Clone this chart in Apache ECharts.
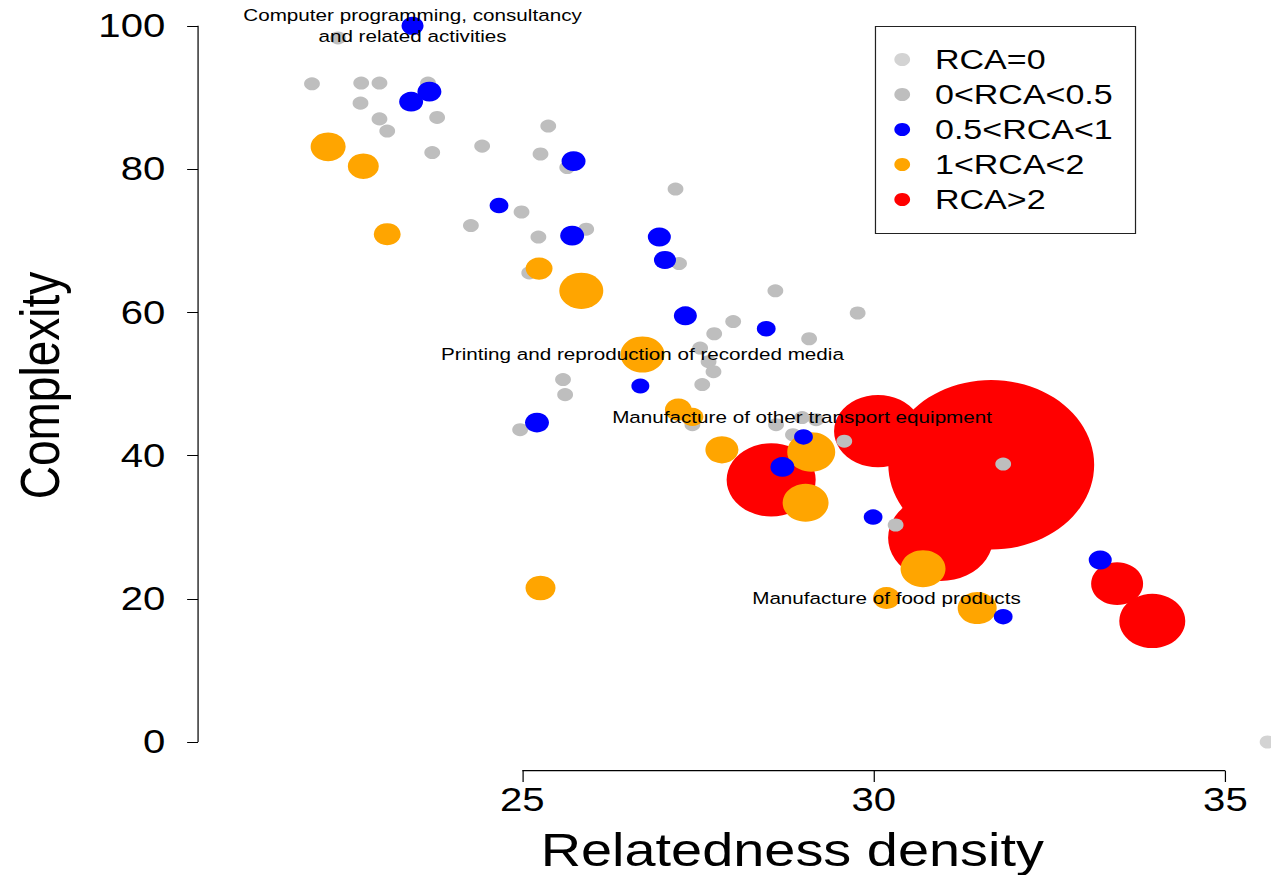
<!DOCTYPE html>
<html>
<head>
<meta charset="utf-8">
<script src="https://cdn.jsdelivr.net/npm/echarts@6.0.0/dist/echarts.min.js"></script>
<style>
  html, body { margin: 0; padding: 0; background: #fff; overflow: hidden; }
  #wrap { width: 1271px; height: 875px; overflow: hidden; }
  /* the figure is drawn at a narrower width and widened horizontally */
  #chart { width: 1046px; height: 875px; transform: scaleX(1.2151); transform-origin: 0 0; }
</style>
</head>
<body>
<div id="wrap"><div id="chart"></div></div>
<script>
// Each industry: [relatedness density, complexity, bubble weight]
const rcaZero = [
  [35.60, 0.0, 1.7]
];
const rcaLow = [ // 0 < RCA < 0.5
  [22.38, 98.3, 1.7], [22.01, 91.9, 1.7], [22.71, 92.0, 1.7], [22.97, 92.0, 1.7],
  [23.66, 92.0, 1.7], [22.70, 89.2, 1.7], [22.97, 87.0, 1.7], [23.08, 85.3, 1.7],
  [23.79, 87.2, 1.7], [23.72, 82.3, 1.7], [24.43, 83.2, 1.7], [25.37, 86.0, 1.7],
  [25.26, 82.1, 1.7], [25.64, 80.2, 1.7], [24.99, 74.0, 1.7], [24.27, 72.1, 1.7],
  [25.23, 70.5, 1.7], [25.91, 71.6, 1.7], [27.18, 77.2, 1.7], [25.10, 65.5, 1.7],
  [27.23, 66.8, 1.7], [28.00, 58.7, 1.7], [27.73, 57.0, 1.7], [29.77, 59.9, 1.7],
  [28.60, 63.0, 1.7], [29.08, 56.3, 1.7], [27.53, 55.0, 1.7], [27.65, 53.1, 1.7],
  [27.72, 51.7, 1.7], [27.56, 49.9, 1.7], [25.58, 50.6, 1.7], [25.61, 48.5, 1.7],
  [24.97, 43.6, 1.7], [27.42, 44.3, 1.7], [28.61, 44.3, 1.7], [28.98, 45.3, 1.7],
  [29.18, 45.0, 1.7], [28.85, 42.9, 1.7], [29.58, 42.0, 1.7], [30.31, 30.3, 1.7],
  [31.84, 38.8, 1.7]
];
const rcaMid = [ // 0.5 < RCA < 1
  [23.44, 100.0, 3.3], [23.42, 89.4, 3.9], [23.68, 90.8, 3.9], [25.73, 81.1, 3.9],
  [24.67, 74.9, 2.4], [25.71, 70.7, 3.9], [26.95, 70.5, 3.6], [27.03, 67.3, 3.3],
  [27.32, 59.5, 3.6], [28.47, 57.7, 2.4], [26.68, 49.7, 2.2], [25.21, 44.6, 3.9],
  [29.00, 42.6, 2.4], [28.70, 38.4, 3.9], [29.99, 31.4, 2.4], [31.84, 17.5, 2.4],
  [33.22, 25.4, 3.6]
];
const rcaHigh = [ // 1 < RCA < 2
  [22.24, 83.1, 8.3], [22.74, 80.4, 6.5], [23.08, 70.9, 4.9], [25.24, 66.1, 4.9],
  [25.84, 63.0, 13.1], [26.71, 54.1, 13.1], [27.22, 46.4, 4.9], [27.42, 45.4, 3.3],
  [27.84, 40.8, 7.4], [29.11, 40.5, 15.6], [29.03, 33.4, 14.3], [30.70, 24.2, 13.7],
  [30.18, 20.1, 4.9], [31.47, 18.7, 10.3], [25.26, 21.5, 6.1]
];
const rcaTop = [ // RCA > 2
  [31.67, 38.7, 287], [28.54, 36.6, 53.7], [30.06, 43.4, 52.4], [30.95, 28.5, 74.7],
  [33.46, 22.1, 18.3], [33.96, 16.9, 29.5]
];

const legendNames = ['RCA=0', '0<RCA<0.5', '0.5<RCA<1', '1<RCA<2', 'RCA>2'];
const xTicks = [25, 30, 35];
const yTicks = [0, 20, 40, 60, 80, 100];

// Named industries, pointing at their bubble
const namedIndustries = [
  { text: 'Computer programming, consultancy\nand related activities', group: rcaMid, index: 0 },
  { text: 'Printing and reproduction of recorded media', group: rcaHigh, index: 5 },
  { text: 'Manufacture of other transport equipment', group: rcaLow, index: 35 },
  { text: 'Manufacture of food products', group: rcaHigh, index: 12 }
];

const FONT = 'Liberation Sans, Arial, Helvetica, sans-serif';
const X_MIN = 20.39, X_MAX = 37.29;
const Y_MIN = -4.05, Y_MAX = 103.6;

const bubbleSize = v => 10 * Math.sqrt(v[2]);

function bubbles(name, data, color) {
  return {
    name: name,
    type: 'scatter',
    data: data,
    symbol: 'circle',
    symbolSize: bubbleSize,
    itemStyle: { color: color, opacity: 1 },
    emphasis: { disabled: true },
    silent: true,
    clip: false
  };
}

const chart = echarts.init(document.getElementById('chart'), null, { renderer: 'svg' });

const option = {
  animation: false,
  backgroundColor: '#fff',
  textStyle: { fontFamily: FONT },
  grid: { left: 163, width: 978, top: 0, height: 771, containLabel: false, outerBoundsMode: 'none' },
  xAxis: {
    type: 'value',
    min: X_MIN, max: X_MAX,
    axisLine: { show: false, onZero: false },
    splitLine: { show: false },
    axisTick: { show: true, customValues: xTicks, length: 11, lineStyle: { color: '#000', width: 1 } },
    axisLabel: { customValues: xTicks, fontSize: 33, color: '#000', margin: 12, fontFamily: FONT },
    name: 'Relatedness density',
    nameLocation: 'middle',
    nameGap: 56,
    nameTextStyle: { fontSize: 46, color: '#000', fontFamily: FONT }
  },
  yAxis: {
    type: 'value',
    min: Y_MIN, max: Y_MAX,
    axisLine: { show: false, onZero: false },
    splitLine: { show: false },
    axisTick: { show: true, customValues: yTicks, length: 9, lineStyle: { color: '#000', width: 1 } },
    axisLabel: { customValues: yTicks, fontSize: 33, color: '#000', margin: 27, fontFamily: FONT },
    name: 'Complexity',
    nameLocation: 'middle',
    nameGap: 107,
    nameTextStyle: { fontSize: 46, color: '#000', fontFamily: FONT }
  },
  legend: {
    orient: 'vertical',
    left: 731,
    top: 37,
    itemWidth: 28,
    itemHeight: 13,
    itemGap: 0,
    icon: 'circle',
    selectedMode: false,
    data: legendNames,
    textStyle: { fontSize: 28, color: '#000', lineHeight: 35, padding: [0, 0, 0, 8], fontFamily: FONT }
  },
  series: [
    bubbles('RCA>2', rcaTop, '#ff0000'),
    bubbles('RCA=0', rcaZero, '#d3d3d3'),
    bubbles('0<RCA<0.5', rcaLow, '#bebebe'),
    bubbles('1<RCA<2', rcaHigh, '#ffa500'),
    bubbles('0.5<RCA<1', rcaMid, '#0000ff'),
    {
      name: 'names',
      type: 'scatter',
      z: 10,
      silent: true,
      clip: false,
      symbolSize: 1,
      itemStyle: { color: 'rgba(0,0,0,0)' },
      data: namedIndustries.map(d => ({
        name: d.text,
        value: [d.group[d.index][0], d.group[d.index][1]]
      })),
      label: {
        show: true,
        opacity: 1,
        position: 'inside',
        formatter: '{b}',
        fontSize: 17,
        lineHeight: 21,
        align: 'center',
        verticalAlign: 'middle',
        color: '#000',
        fontFamily: FONT
      },
      labelLayout: { hideOverlap: false }
    }
  ]
};

chart.setOption(option);

// Axis lines that span only the labelled range (base-graphics style),
// placed through the chart's own scales; plus the legend frame.
const toPx = v => chart.convertToPixel({ gridIndex: 0 }, v);
const xa = toPx([xTicks[0], Y_MIN]);
const xb = toPx([xTicks[xTicks.length - 1], Y_MIN]);
const ya = toPx([X_MIN, yTicks[0]]);
const yb = toPx([X_MIN, yTicks[yTicks.length - 1]]);
const baseY = Math.round(xa[1]) - 1;

chart.setOption({
  graphic: [
    {
      type: 'rect', silent: true, z: 100,
      shape: { x: xa[0], y: baseY, width: xb[0] - xa[0], height: 1.2 },
      style: { fill: '#000', stroke: null }
    },
    {
      type: 'polyline', silent: true, z: 100,
      shape: { points: [[ya[0], ya[1]], [yb[0], yb[1]]] },
      style: { stroke: '#000', lineWidth: 1, fill: null }
    },
    {
      type: 'rect', silent: true,
      shape: { x: 720.5, y: 26.5, width: 214, height: 207 },
      style: { fill: 'none', stroke: '#222', lineWidth: 1 }
    }
  ]
});
</script>
</body>
</html>
